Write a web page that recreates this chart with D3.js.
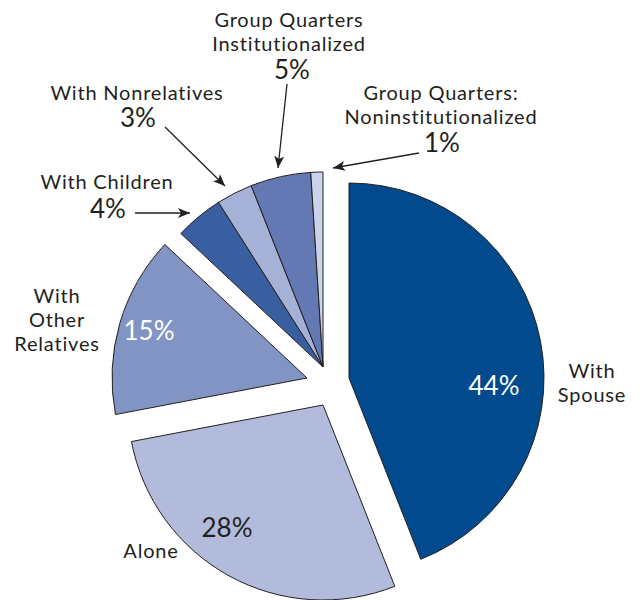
<!DOCTYPE html>
<html>
<head>
<meta charset="utf-8">
<script src="https://cdn.jsdelivr.net/npm/d3@7"></script>
<style>
  html, body { margin: 0; padding: 0; background: #fff; }
  svg { display: block; }
  text { font-family: "Gill Sans", "Gill Sans MT", Lato, "Open Sans", sans-serif; fill: #231f20; }
</style>
</head>
<body>
<svg id="chart" width="644" height="600"></svg>
<script>
// ---- data ----
const categories = ["With Spouse", "Alone", "With Other Relatives", "With Children",
                    "With Nonrelatives", "Group Quarters Institutionalized",
                    "Group Quarters: Noninstitutionalized"];
const values = [44, 28, 15, 4, 3, 5, 1];
const valueLabels = ["44%", "28%", "15%", "4%", "3%", "5%", "1%"];
const nameLines = [["With", "Spouse"], ["Alone"], ["With", "Other", "Relatives"],
                   ["With Children"], ["With Nonrelatives"],
                   ["Group Quarters", "Institutionalized"],
                   ["Group Quarters:", "Noninstitutionalized"]];

// ---- layout / style ----
const colors = ["#004a8d", "#b2bbdb", "#8294c3", "#3a5fa1", "#a6b1d7", "#6479b4", "#cbd3ea"];
const cx = 323, cy = 367, R = 195;
const explode = [[26, 11], [0, 38], [-16, 11], [0, 0], [0, 0], [0, 0], [0, 0]];
const nameLayout = [
  {x: 592, y: 378}, {x: 151, y: 558}, {x: 57, y: 303},
  {x: 107, y: 189}, {x: 137, y: 100}, {x: 289, y: 27}, {x: 441, y: 100}
];
const pctLayout = [
  {x: 494, y: 395, fill: "#ffffff"}, {x: 227, y: 537, fill: "#231f20"}, {x: 149, y: 340, fill: "#ffffff"},
  {x: 108, y: 218, fill: "#231f20"}, {x: 138, y: 127, fill: "#231f20"},
  {x: 292, y: 79, fill: "#231f20"}, {x: 442, y: 152, fill: "#231f20"}
];
const arrows = [
  null, null, null,
  {x1: 135, y1: 213, x2: 190, y2: 213},
  {x1: 165, y1: 127, x2: 225, y2: 186},
  {x1: 287, y1: 84, x2: 278, y2: 168},
  {x1: 419, y1: 153, x2: 333, y2: 168}
];
const lineH = 24;

const svg = d3.select("#chart");

const defs = svg.append("defs");
defs.append("marker")
  .attr("id", "ah")
  .attr("viewBox", "0 0 12 10")
  .attr("refX", 12).attr("refY", 5)
  .attr("markerWidth", 12).attr("markerHeight", 10)
  .attr("markerUnits", "userSpaceOnUse")
  .attr("orient", "auto")
  .append("path")
  .attr("d", "M0,0 L12,5 L0,10 L3,5 Z")
  .attr("fill", "#231f20");

const pie = d3.pie().sort(null).value(d => d)(values);
const arc = d3.arc().innerRadius(0).outerRadius(R);

const slices = svg.append("g").attr("transform", `translate(${cx},${cy})`);
slices.selectAll("path")
  .data(pie)
  .join("path")
  .attr("transform", (d, i) => `translate(${explode[i][0]},${explode[i][1]})`)
  .attr("d", arc)
  .attr("fill", (d, i) => colors[i])
  .attr("stroke", "#231f20")
  .attr("stroke-width", 1)
  .attr("stroke-linejoin", "miter");

// arrows
svg.append("g").selectAll("line")
  .data(arrows.filter(a => a))
  .join("line")
  .attr("x1", d => d.x1).attr("y1", d => d.y1)
  .attr("x2", d => d.x2).attr("y2", d => d.y2)
  .attr("stroke", "#231f20")
  .attr("stroke-width", 1.3)
  .attr("marker-end", "url(#ah)");

// name labels
const names = svg.append("g");
categories.forEach((c, i) => {
  const t = names.append("text")
    .attr("x", nameLayout[i].x)
    .attr("y", nameLayout[i].y)
    .attr("text-anchor", "middle")
    .attr("font-size", 20)
    .attr("letter-spacing", 0.8);
  nameLines[i].forEach((ln, j) => {
    t.append("tspan")
      .attr("x", nameLayout[i].x)
      .attr("dy", j === 0 ? 0 : lineH)
      .text(ln);
  });
});

// percent labels
svg.append("g").selectAll("text")
  .data(valueLabels)
  .join("text")
  .attr("x", (d, i) => pctLayout[i].x)
  .attr("y", (d, i) => pctLayout[i].y)
  .attr("text-anchor", "middle")
  .attr("font-size", 26)
  .style("fill", (d, i) => pctLayout[i].fill)
  .text(d => d);
</script>
</body>
</html>
